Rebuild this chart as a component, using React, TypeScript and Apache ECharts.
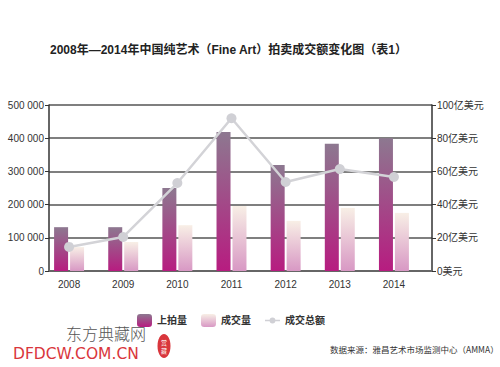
import React, { useEffect, useRef } from "react";
import * as echarts from "echarts";

const years = ["2008", "2009", "2010", "2011", "2012", "2013", "2014"];
const listed = [132000, 132000, 250000, 419000, 319000, 383000, 400000];
const sold = [72000, 87000, 138000, 196000, 151000, 190000, 175000];
const total = [14.5, 20.5, 53, 92, 53.6, 61.4, 56.6];
const leftTicks = { min: 0, max: 500000, interval: 100000 };
const rightTicks = { min: 0, max: 100, interval: 20 };
const seriesNames = ["上拍量", "成交量", "成交总额"];
const titleText = "2008年—2014年中国纯艺术（Fine Art）拍卖成交额变化图（表1）";
const sourceText = "数据来源：雅昌艺术市场监测中心（AMMA）";

export default function App() {
  const ref = useRef<HTMLDivElement>(null);
  useEffect(() => {
    if (!ref.current) return;
    const chart = echarts.init(ref.current, null, { renderer: "svg" });
    const font = "Arial, 'Liberation Sans', 'Noto Sans CJK SC', sans-serif";
    const fmtLeft = (v: number) => {
      if (v === 0) return "0";
      const k = Math.floor(v / 1000);
      return k + " 000";
    };
    chart.setOption({
      animation: false,
      backgroundColor: "#ffffff",
      textStyle: { fontFamily: font },
      grid: [
        { left: 49, right: 68, top: 105, bottom: 96 },
        { left: 42, width: 379, top: 105, bottom: 96 },
      ],
      legend: {
        left: 132,
        top: 309,
        itemWidth: 15,
        itemHeight: 13,
        itemGap: 14,
        data: [
          { name: seriesNames[0] },
          { name: seriesNames[1] },
          {
            name: seriesNames[2],
            icon: "path://M0,4.2h6v1.6h-6z M12,4.2h6v1.6h-6z M9,1.5a3.5,3.5 0 1,1 0,7a3.5,3.5 0 1,1 0,-7z",
          },
        ],
        textStyle: { fontSize: 10, fontWeight: "bold", color: "#333" },
      },
      xAxis: [
        {
          gridIndex: 0,
          type: "category",
          data: years,
          axisLine: { show: true, lineStyle: { color: "#666", width: 2 } },
          axisTick: { show: false },
          axisLabel: { show: false },
        },
        {
          gridIndex: 1,
          type: "category",
          data: years,
          axisLine: { show: false },
          axisTick: { show: false },
          axisLabel: { fontSize: 10, color: "#333", margin: 8 },
        },
      ],
      yAxis: [
        {
          gridIndex: 0,
          type: "value",
          ...leftTicks,
          position: "left",
          axisLine: { show: true, lineStyle: { color: "#333", width: 1.5 } },
          axisTick: { show: true, length: 4, lineStyle: { color: "#333" } },
          axisLabel: { fontSize: 10, color: "#333", margin: 5, formatter: fmtLeft },
          splitLine: { show: true, lineStyle: { color: "#555", width: 1.5 } },
        },
        {
          gridIndex: 0,
          type: "value",
          ...rightTicks,
          position: "right",
          axisLine: { show: true, lineStyle: { color: "#333", width: 1.5 } },
          axisTick: { show: true, length: 4, lineStyle: { color: "#333" } },
          axisLabel: {
            fontSize: 10,
            color: "#333",
            margin: 5,
            formatter: (v: number) => (v === 0 ? "0美元" : v + "亿美元"),
          },
          splitLine: { show: false },
        },
        { gridIndex: 1, type: "value", ...leftTicks, show: false },
        { gridIndex: 1, type: "value", ...rightTicks, show: false },
      ],
      series: [
        {
          name: seriesNames[0],
          type: "bar",
          xAxisIndex: 1,
          yAxisIndex: 2,
          data: listed,
          barWidth: 14,
          barGap: "14%",
          itemStyle: {
            color: new echarts.graphic.LinearGradient(0, 0, 0, 1, [
              { offset: 0, color: "#8d7890" },
              { offset: 1, color: "#b71c80" },
            ]),
          },
        },
        {
          name: seriesNames[1],
          type: "bar",
          xAxisIndex: 1,
          yAxisIndex: 2,
          data: sold,
          barWidth: 14,
          itemStyle: {
            color: new echarts.graphic.LinearGradient(0, 0, 0, 1, [
              { offset: 0, color: "#f8efe6" },
              { offset: 1, color: "#d898c4" },
            ]),
          },
        },
        {
          name: seriesNames[2],
          type: "line",
          xAxisIndex: 1,
          yAxisIndex: 3,
          data: total,
          symbol: "circle",
          symbolSize: 10,
          z: 5,
          lineStyle: { color: "#d3d3d7", width: 2.5 },
          itemStyle: { color: "#d0d0d5" },
        },
      ],
      graphic: [
        {
          type: "text",
          left: 50,
          top: 44,
          style: {
            text: titleText,
            fontSize: 12,
            fontWeight: "bold",
            fill: "#222",
            fontFamily: "Arial, 'Noto Sans CJK SC', sans-serif",
          },
        },
        {
          type: "text",
          x: 66,
          y: 325,
          style: {
            text: "东方典藏网",
            fontSize: 16,
            lineHeight: 16,
            fill: "#555",
            fontFamily: "'Noto Sans CJK SC', sans-serif",
            fontWeight: 300,
          },
        },
        {
          type: "text",
          x: 13,
          y: 347,
          style: {
            text: "DFDCW.COM.CN",
            fontSize: 15.5,
            lineHeight: 14,
            fill: "#d9363c",
            fontFamily: "'DejaVu Sans', sans-serif",
          },
        },
        {
          type: "ellipse",
          shape: { cx: 164, cy: 346, rx: 6.5, ry: 12 },
          style: { fill: "#d9363c" },
        },
        {
          type: "text",
          x: 164,
          y: 346,
          style: {
            text: "赏\n藏",
            fontSize: 6,
            lineHeight: 8,
            fill: "#fff",
            align: "center",
            verticalAlign: "middle",
            fontFamily: "'Noto Sans CJK SC', sans-serif",
          },
        },
        {
          type: "text",
          x: 330,
          y: 345,
          style: {
            text: sourceText,
            fontSize: 8.5,
            fill: "#333",
            fontFamily: "'Noto Sans CJK SC', serif",
          },
        },
      ],
    });
    return () => chart.dispose();
  }, []);
  return (
    <div
      ref={ref}
      style={{ position: "fixed", left: 0, top: 0, width: 500, height: 367 }}
    />
  );
}
